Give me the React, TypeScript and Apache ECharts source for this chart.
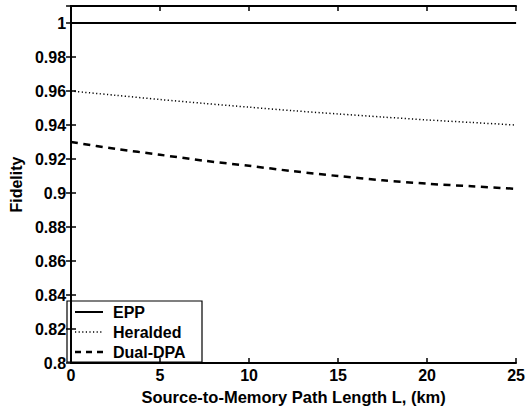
import React, { useEffect, useRef } from "react";
import * as echarts from "echarts";

const lengthsKm = [0, 2.5, 5, 7.5, 10, 12.5, 15, 17.5, 20, 22.5, 25];
const eppFidelity = [1, 1, 1, 1, 1, 1, 1, 1, 1, 1, 1];
const heraldedFidelity = [0.96, 0.9575, 0.955, 0.9527, 0.9505, 0.9484, 0.9465, 0.9447, 0.943, 0.9415, 0.94];
const dualDpaFidelity = [0.93, 0.926, 0.9225, 0.919, 0.916, 0.9128, 0.91, 0.9075, 0.9055, 0.904, 0.9025];
const seriesNames = ["EPP", "Heralded", "Dual-DPA"];

const FONT = "'Liberation Sans', Arial, Helvetica, sans-serif";

const styles = [
  { width: 2, dash: null as number[] | null },
  { width: 1.5, dash: [1.2, 2.4] },
  { width: 2.5, dash: [7, 5.5] },
];

export default function App() {
  const ref = useRef<HTMLDivElement>(null);
  useEffect(() => {
    if (!ref.current) return;
    const chart = echarts.init(ref.current, null, { renderer: "svg" });
    const pair = (ys: number[]) => lengthsKm.map((x, i) => [x, ys[i]]);
    const axisLine = { show: true, lineStyle: { color: "#000", width: 1.8 } };
    const tick = { show: true, inside: true, length: 5, lineStyle: { color: "#000", width: 1.5 } };
    const labelStyle = { color: "#000", fontFamily: FONT, fontWeight: "bold" as const, fontSize: 16 };

    const legendTop = 301;
    const legendChildren: any[] = [
      {
        type: "rect",
        shape: { x: 67, y: legendTop, width: 135, height: 61 },
        style: { fill: "#fff", stroke: "#000", lineWidth: 1.2 },
      },
    ];
    seriesNames.forEach((name, i) => {
      const cy = legendTop + 11 + i * 20;
      legendChildren.push({
        type: "line",
        shape: { x1: 75, y1: cy, x2: 103, y2: cy },
        style: {
          stroke: "#000",
          lineWidth: styles[i].width,
          lineDash: i === 2 ? [6, 5] : styles[i].dash,
        },
      });
      legendChildren.push({
        type: "text",
        x: 113,
        y: cy,
        style: {
          text: name,
          fill: "#000",
          font: `bold 16px ${FONT}`,
          verticalAlign: "middle",
          align: "left",
        },
      });
    });

    chart.setOption({
      animation: false,
      backgroundColor: "#fff",
      grid: { left: 62, right: 10, top: 6, bottom: 41, containLabel: false },
      graphic: [{ type: "group", z: 100, children: legendChildren }],
      xAxis: [
        {
          type: "value",
          min: 0,
          max: 25,
          interval: 5,
          position: "bottom",
          axisLine,
          axisTick: tick,
          splitLine: { show: false },
          axisLabel: { ...labelStyle, margin: 4 },
          name: "Source-to-Memory Path Length L, (km)",
          nameLocation: "middle",
          nameGap: 16,
          nameTextStyle: { ...labelStyle, fontSize: 16.5, verticalAlign: "top" },
        },
        {
          type: "value",
          min: 0,
          max: 25,
          interval: 5,
          position: "top",
          axisLine,
          axisTick: tick,
          splitLine: { show: false },
          axisLabel: { show: false },
        },
      ],
      yAxis: [
        {
          type: "value",
          min: 0.8,
          max: 1.01,
          interval: 0.02,
          position: "left",
          axisLine,
          axisTick: tick,
          splitLine: { show: false },
          axisLabel: {
            ...labelStyle,
            margin: 5,
            formatter: (v: number) => (v > 1.005 ? "" : String(+v.toFixed(2))),
          },
          name: "Fidelity",
          nameLocation: "middle",
          nameGap: 42,
          nameRotate: 90,
          nameTextStyle: labelStyle,
        },
        {
          type: "value",
          min: 0.8,
          max: 1.01,
          interval: 0.02,
          position: "right",
          axisLine,
          axisTick: tick,
          splitLine: { show: false },
          axisLabel: { show: false },
        },
      ],
      series: seriesNames.map((name, i) => ({
        name,
        type: "line",
        data: pair([eppFidelity, heraldedFidelity, dualDpaFidelity][i]),
        showSymbol: false,
        symbol: "none",
        smooth: i === 0 ? false : 0.3,
        lineStyle: { color: "#000", width: styles[i].width, type: styles[i].dash ?? "solid" },
      })),
    });
    return () => chart.dispose();
  }, []);
  return <div ref={ref} style={{ width: 528, height: 410, position: "absolute", left: 0, top: 0 }} />;
}
